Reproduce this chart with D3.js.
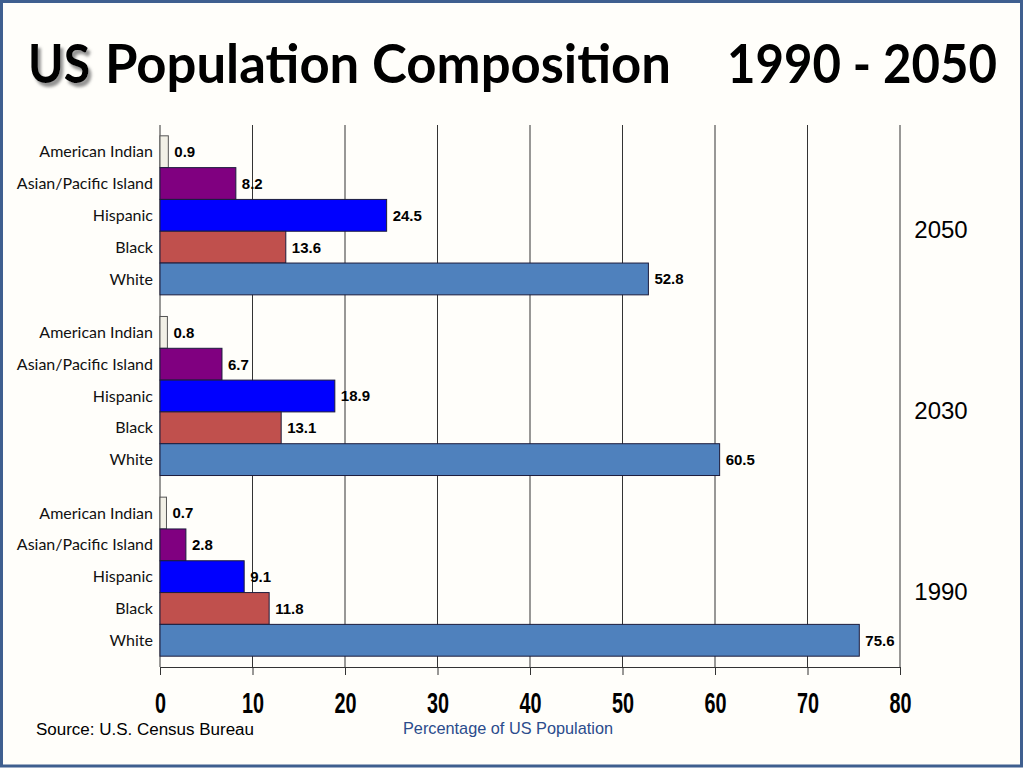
<!DOCTYPE html>
<html>
<head>
<meta charset="utf-8">
<script src="https://cdn.jsdelivr.net/npm/d3@7"></script>
<style>
  body { margin: 0; background: #fff; }
  svg { display: block; }
</style>
</head>
<body>
<div id="chart"></div>
<script>
// data
const years = ["2050", "2030", "1990"];
const categories = ["American Indian", "Asian/Pacific Island", "Hispanic", "Black", "White"];
const values2050 = [0.9, 8.2, 24.5, 13.6, 52.8];
const values2030 = [0.8, 6.7, 18.9, 13.1, 60.5];
const values1990 = [0.7, 2.8, 9.1, 11.8, 75.6];
const xTicks = [0, 10, 20, 30, 40, 50, 60, 70, 80];
const barColors = ["#f2f0e6", "#800080", "#0000ff", "#c0504d", "#4f81bd"];

const seriesByYear = { "2050": values2050, "2030": values2030, "1990": values1990 };

const W = 1024, H = 768;
const margin = { top: 125, left: 160, right: 124, bottom: 101 };
const width = W - margin.left - margin.right;
const height = H - margin.top - margin.bottom;

const svg = d3.select("#chart").append("svg")
  .attr("width", W)
  .attr("height", H);

// slide frame
svg.append("rect")
  .attr("x", 1.5).attr("y", 1.5)
  .attr("width", W - 4).attr("height", H - 3.5)
  .attr("fill", "#fffefa")
  .attr("stroke", "#3f5f8f")
  .attr("stroke-width", 3);

// title ("US" gets a soft drop shadow)
const defs = svg.append("defs");
defs.append("filter").attr("id", "shadow")
  .attr("x", "-20%").attr("y", "-20%").attr("width", "150%").attr("height", "150%")
  .append("feDropShadow")
  .attr("dx", 3).attr("dy", 4).attr("stdDeviation", 1.5)
  .attr("flood-color", "#777").attr("flood-opacity", 0.8);

const titleFont = "Lato, 'Open Sans', sans-serif";
svg.append("text")
  .attr("x", 28).attr("y", 83)
  .attr("font-family", titleFont).attr("font-weight", 700).attr("font-size", 53)
  .attr("filter", "url(#shadow)")
  .attr("textLength", 62).attr("lengthAdjust", "spacingAndGlyphs")
  .text("US");
svg.append("text")
  .attr("x", 105).attr("y", 83)
  .attr("font-family", titleFont).attr("font-weight", 700).attr("font-size", 53)
  .attr("textLength", 566).attr("lengthAdjust", "spacingAndGlyphs")
  .text("Population Composition");
svg.append("text")
  .attr("x", 727).attr("y", 83)
  .attr("font-family", titleFont).attr("font-weight", 700).attr("font-size", 53)
  .attr("textLength", 270).attr("lengthAdjust", "spacingAndGlyphs")
  .text("1990 - 2050");

const g = svg.append("g")
  .attr("transform", `translate(${margin.left},${margin.top})`);

const x = d3.scaleLinear().domain([0, 80]).range([0, width]);
const yGroup = d3.scaleBand().domain(years).range([0, height]);
const yCat = d3.scaleBand().domain(categories)
  .range([0, yGroup.bandwidth()])
  .paddingInner(0).paddingOuter(0.34);
const color = d3.scaleOrdinal().domain(categories).range(barColors);

// vertical gridlines
g.selectAll(".grid")
  .data(xTicks)
  .enter().append("line")
  .attr("x1", d => x(d)).attr("x2", d => x(d))
  .attr("y1", 0).attr("y2", height)
  .attr("stroke", "#333")
  .attr("stroke-width", 1);

// bottom axis
const axis = g.append("g")
  .attr("transform", `translate(0,${height})`)
  .call(d3.axisBottom(x).tickValues(xTicks).tickSize(8).tickSizeOuter(0).tickPadding(17));
axis.select(".domain").attr("stroke", "#333");
axis.selectAll(".tick line").attr("stroke", "#333");
axis.selectAll(".tick text")
  .attr("font-family", "'Liberation Sans', Arial, sans-serif")
  .attr("font-weight", 700)
  .attr("font-size", 30)
  .attr("fill", "#000")
  .attr("transform", "scale(0.66,1)");

const groups = g.selectAll(".year")
  .data(years)
  .enter().append("g")
  .attr("transform", d => `translate(0,${yGroup(d)})`);

const rows = groups.selectAll(".row")
  .data(yr => seriesByYear[yr].map((v, i) => ({ year: yr, cat: categories[i], value: v })))
  .enter().append("g");

rows.append("rect")
  .attr("x", 0)
  .attr("y", d => yCat(d.cat))
  .attr("width", d => x(d.value))
  .attr("height", yCat.bandwidth())
  .attr("fill", d => color(d.cat))
  .attr("stroke", d => d.cat === "American Indian" ? "#555" : "#1c1c3c")
  .attr("stroke-width", 1);

rows.append("text")
  .attr("x", d => x(d.value) + 6)
  .attr("y", d => yCat(d.cat) + yCat.bandwidth() / 2)
  .attr("dy", "0.36em")
  .attr("font-family", "'Liberation Sans', Arial, sans-serif")
  .attr("font-weight", 700)
  .attr("font-size", 15)
  .text(d => d.value.toFixed(1));

rows.append("text")
  .attr("x", -7)
  .attr("y", d => yCat(d.cat) + yCat.bandwidth() / 2)
  .attr("dy", "0.35em")
  .attr("text-anchor", "end")
  .attr("font-family", "Lato, 'Open Sans', sans-serif")
  .attr("font-size", 16)
  .attr("fill", "#111")
  .text(d => d.cat);

// year labels on the right
groups.append("text")
  .attr("x", width + 41)
  .attr("y", yGroup.bandwidth() * 0.58)
  .attr("dy", "0.36em")
  .attr("text-anchor", "middle")
  .attr("font-family", "'Liberation Sans', Arial, sans-serif")
  .attr("font-size", 24)
  .text(d => d);

// footer
svg.append("text")
  .attr("x", 36).attr("y", 735)
  .attr("font-family", "'Liberation Sans', Arial, sans-serif")
  .attr("font-size", 16)
  .attr("textLength", 218).attr("lengthAdjust", "spacingAndGlyphs")
  .text("Source: U.S. Census Bureau");

svg.append("text")
  .attr("x", 403).attr("y", 734)
  .attr("font-family", "'Liberation Sans', Arial, sans-serif")
  .attr("font-size", 17)
  .attr("fill", "#2b4c8c")
  .attr("textLength", 210).attr("lengthAdjust", "spacingAndGlyphs")
  .text("Percentage of US Population");
</script>
</body>
</html>
